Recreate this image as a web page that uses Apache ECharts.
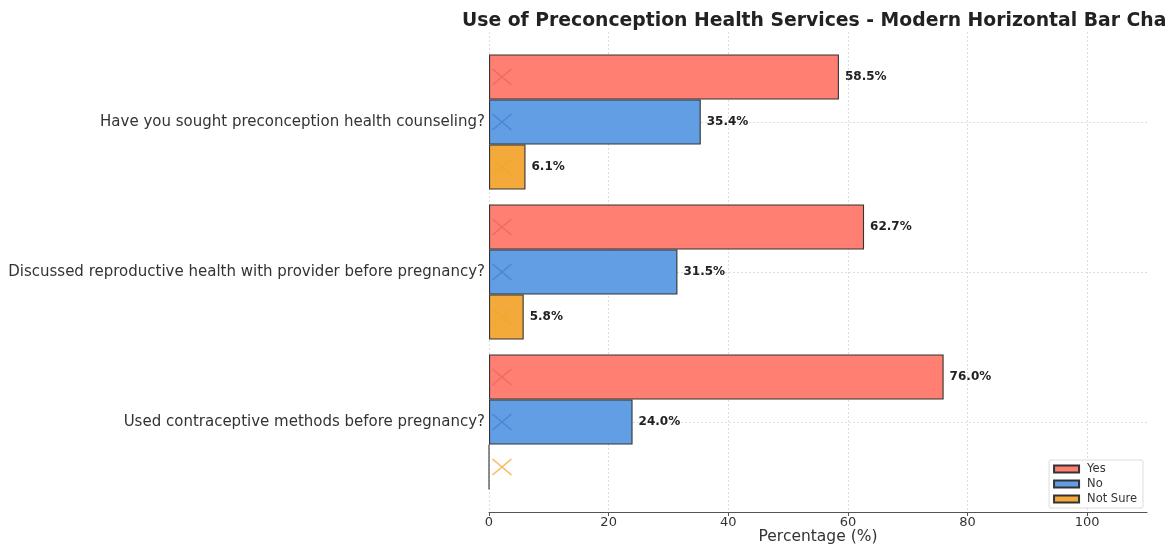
<!DOCTYPE html>
<html>
<head>
<meta charset="utf-8">
<script src="https://cdn.jsdelivr.net/npm/echarts@6/dist/echarts.min.js"></script>
<style>
  html, body { margin: 0; padding: 0; background: #fff; overflow: hidden; }
  #chart { width: 1167px; height: 547px; }
</style>
</head>
<body>
<div id="chart"></div>
<script>
// Survey questions (top to bottom) and answer shares in percent
const categories = [
  'Have you sought preconception health counseling?',
  'Discussed reproductive health with provider before pregnancy?',
  'Used contraceptive methods before pregnancy?'
];
const yesValues = [58.5, 62.7, 76.0];
const noValues = [35.4, 31.5, 24.0];
const notSureValues = [6.1, 5.8, 0.0];
const xTickValues = [0, 20, 40, 60, 80, 100];
// position of the small "x" marks drawn near the start of each bar
const markerValue = [2, 2, 2];

const FONT = 'DejaVu Sans';
const colors = { yes: '#ff7f72', no: '#629ee4', notSure: '#f3aa3a' };
const markColors = { yes: 'rgba(230,95,90,0.75)', no: 'rgba(60,120,200,0.75)', notSure: 'rgba(245,165,40,0.95)' };

const chart = echarts.init(document.getElementById('chart'), null, { renderer: 'canvas' });

function barSeries(name, values, color) {
  return {
    name: name,
    type: 'bar',
    xAxisIndex: 1,
    yAxisIndex: 1,
    data: values,
    barWidth: 45,
    barGap: '0%',
    itemStyle: { color: color, borderColor: '#333', borderWidth: 1.1 },
    label: {
      show: true,
      position: 'right',
      distance: 6,
      fontFamily: FONT,
      fontWeight: 'bold',
      fontSize: 12,
      color: '#222',
      formatter: p => (p.value > 0 ? p.value.toFixed(1) + '%' : '')
    },
    emphasis: { disabled: true },
    z: 3
  };
}

function markSeries(color, offsetY) {
  return {
    type: 'scatter',
    xAxisIndex: 1,
    yAxisIndex: 1,
    data: markerValue.map((v, i) => [v, i]),
    symbol: 'path://M0,0L10,10M10,0L0,10',
    symbolSize: [19, 16],
    symbolOffset: [1, offsetY],
    itemStyle: { color: 'none', borderColor: color, borderWidth: 1.4 },
    emphasis: { disabled: true },
    silent: true,
    z: 5
  };
}

const option = {
  backgroundColor: '#fff',
  animation: false,
  title: {
    text: 'Use of Preconception Health Services - Modern Horizontal Bar Chart',
    left: 457,
    top: 7,
    textStyle: { fontFamily: FONT, fontWeight: 'bold', fontSize: 18.8, color: '#222' }
  },
  legend: {
    data: ['Yes', 'No', 'Not Sure'],
    orient: 'vertical',
    right: 24,
    bottom: 39,
    itemWidth: 25,
    itemHeight: 7,
    itemGap: 3,
    padding: [3, 6, 3, 4],
    borderColor: '#ddd',
    borderWidth: 1,
    borderRadius: 2,
    backgroundColor: 'rgba(255,255,255,0.9)',
    icon: 'rect',
    textStyle: { fontFamily: FONT, fontSize: 11.5, color: '#333', padding: [0, 0, 0, 3] }
  },
  grid: [
    { left: 489, right: 20, top: 32, bottom: 35, outerBoundsMode: 'none', containLabel: false },
    { left: 489, right: 20, top: 47, bottom: 50, outerBoundsMode: 'none', containLabel: false }
  ],
  xAxis: [
    {
      type: 'value',
      gridIndex: 0,
      min: 0,
      max: 110,
      interval: 10,
      name: 'Percentage (%)',
      nameLocation: 'middle',
      nameGap: 17,
      nameMoveOverlap: false,
      nameTextStyle: { fontFamily: FONT, fontSize: 15.5, color: '#333' },
      axisLine: { show: true, lineStyle: { color: '#555', width: 1 } },
      axisTick: { show: true, length: 4, customValues: xTickValues, lineStyle: { color: '#555' } },
      axisLabel: { customValues: xTickValues, margin: 4, fontFamily: FONT, fontSize: 13, color: '#333' },
      splitLine: { show: true, lineStyle: { color: '#ddd', type: [2, 2], width: 1 } }
    },
    {
      type: 'value',
      gridIndex: 1,
      min: 0,
      max: 110,
      show: false
    }
  ],
  yAxis: [
    { type: 'value', gridIndex: 0, show: false, min: 0, max: 1 },
    {
      type: 'category',
      gridIndex: 1,
      data: categories,
      inverse: true,
      axisLine: { show: false },
      axisTick: { show: false },
      splitLine: { show: false },
      axisLabel: { margin: 4, fontFamily: FONT, fontSize: 15, color: '#333' }
    }
  ],
  series: [
    barSeries('Yes', yesValues, colors.yes),
    barSeries('No', noValues, colors.no),
    barSeries('Not Sure', notSureValues, colors.notSure),
    markSeries(markColors.yes, -45),
    markSeries(markColors.no, 0),
    markSeries(markColors.notSure, 45),
    {
      // dotted guide lines through each question row, kept behind the bars
      type: 'line',
      xAxisIndex: 1,
      yAxisIndex: 1,
      data: [],
      silent: true,
      z: 1,
      markLine: {
        silent: true,
        z: 1,
        symbol: 'none',
        label: { show: false },
        lineStyle: { color: '#ddd', type: [2, 2], width: 1 },
        data: categories.map(c => ({ yAxis: c }))
      }
    }
  ]
};

chart.setOption(option);
</script>
</body>
</html>
